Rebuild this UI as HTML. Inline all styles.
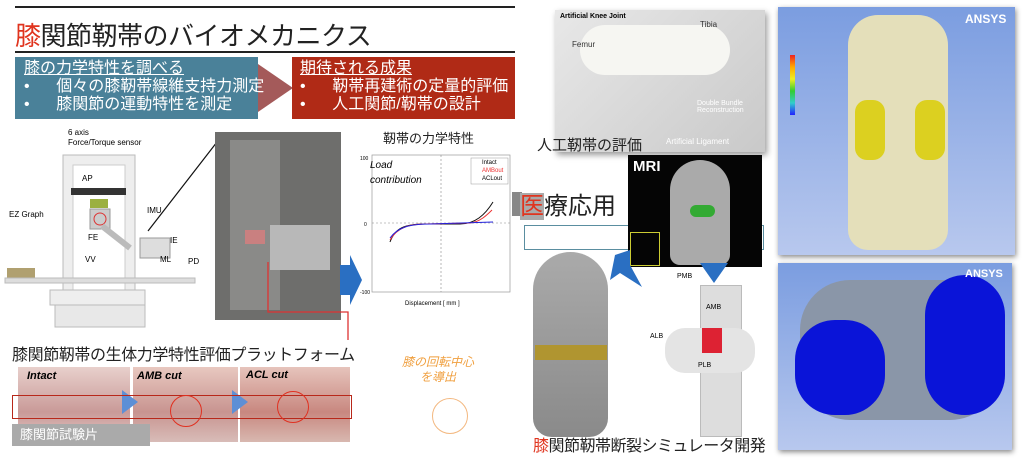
<!DOCTYPE html>
<html><head><meta charset="utf-8"><style>
body{margin:0;width:1024px;height:470px;background:#fff;position:relative;overflow:hidden;font-family:"Liberation Sans","Noto Sans CJK JP",sans-serif}
.a{position:absolute}
.jp{font-family:"Liberation Sans","Noto Sans CJK JP",sans-serif}
</style></head><body>
<div class="a" style="left:15px;top:6px;width:500px;height:2px;background:#222"></div>
<div class="a jp" style="left:15px;top:16px;font-size:26px;color:#222;white-space:nowrap;letter-spacing:-0.5px"><span style="color:#e0341e">膝</span>関節靭帯のバイオメカニクス</div>
<div class="a" style="left:15px;top:51px;width:500px;height:2px;background:#222"></div>
<div class="a" style="left:15px;top:57px;width:243px;height:62px;background:#4a8199"></div>
<div class="a" style="left:258px;top:64px;width:0;height:0;border-top:24px solid transparent;border-bottom:24px solid transparent;border-left:35px solid #a45a5a"></div>
<div class="a" style="left:292px;top:57px;width:223px;height:62px;background:#b02a16"></div>
<div class="a jp" style="left:24px;top:60px;color:#fff;font-size:16px;line-height:18px;white-space:nowrap"><u>膝の力学特性を調べる</u><br>•&nbsp;&nbsp;&nbsp;&nbsp;&nbsp;&nbsp;個々の膝靭帯線維支持力測定<br>•&nbsp;&nbsp;&nbsp;&nbsp;&nbsp;&nbsp;膝関節の運動特性を測定</div>
<div class="a jp" style="left:300px;top:60px;color:#fff;font-size:16px;line-height:18px;white-space:nowrap"><u>期待される成果</u><br>•&nbsp;&nbsp;&nbsp;&nbsp;&nbsp;&nbsp;靭帯再建術の定量的評価<br>•&nbsp;&nbsp;&nbsp;&nbsp;&nbsp;&nbsp;人工関節/靭帯の設計</div>

<svg class="a" style="left:0;top:120px" width="370" height="230" viewBox="0 120 370 230">
<rect x="63" y="155" width="72" height="170" fill="#eee" stroke="#bbb"/>
<rect x="73" y="165" width="52" height="160" fill="#fff" stroke="#ccc"/>
<rect x="71" y="188" width="55" height="7" fill="#333"/>
<rect x="90" y="199" width="18" height="9" fill="#9bb040"/>
<rect x="90" y="209" width="20" height="20" fill="#ccc" stroke="#999"/>
<circle cx="100" cy="219" r="6" fill="none" stroke="#d33"/>
<line x1="102" y1="226" x2="130" y2="248" stroke="#bbb" stroke-width="6"/>
<rect x="140" y="238" width="30" height="20" fill="#ddd" stroke="#999"/>
<rect x="7" y="268" width="28" height="10" fill="#b0a070"/>
<rect x="5" y="278" width="190" height="5" fill="#ddd" stroke="#bbb"/>
<rect x="50" y="290" width="95" height="15" fill="#eee" stroke="#bbb"/>
<rect x="55" y="305" width="90" height="22" fill="#e8e8e8" stroke="#bbb"/>
<text x="68" y="135" font-size="8">6 axis</text><text x="68" y="145" font-size="8">Force/Torque sensor</text>
<text x="82" y="181" font-size="8">AP</text><text x="9" y="217" font-size="8">EZ Graph</text>
<text x="88" y="240" font-size="8">FE</text><text x="147" y="213" font-size="8">IMU</text>
<text x="170" y="243" font-size="8">IE</text><text x="85" y="262" font-size="8">VV</text>
<text x="160" y="262" font-size="8">ML</text><text x="188" y="264" font-size="8">PD</text>
<line x1="217" y1="142" x2="148" y2="231" stroke="#111" stroke-width="1.2"/>
<rect x="215" y="132" width="126" height="188" fill="#6e6e6c"/>
<rect x="230" y="140" width="50" height="170" fill="#8a8a88"/>
<rect x="270" y="225" width="60" height="45" fill="#b8b8b8"/>
<rect x="245" y="230" width="20" height="14" fill="#c98080"/>
<polyline points="268,262 268,312 348,312 348,340" fill="none" stroke="#d33" stroke-width="1.3"/>
<polygon points="340,265 350,265 350,255 362,280 350,305 350,295 340,295" fill="#2a6fc2"/>
</svg>
<div class="a jp" style="left:12px;top:341px;font-size:16px;color:#222;white-space:nowrap;letter-spacing:-0.4px">膝関節靭帯の生体力学特性評価プラットフォーム</div>
<div class="a" style="left:18px;top:367px;width:112px;height:75px;background:linear-gradient(#e8d0cc,#c99a98 60%,#e2c6c4)"></div>
<div class="a" style="left:133px;top:367px;width:105px;height:75px;background:linear-gradient(#e8c8c0,#c89490 60%,#d8bcb8)"></div>
<div class="a" style="left:240px;top:367px;width:110px;height:75px;background:linear-gradient(#e6c4bc,#c88880 60%,#d8b8b0)"></div>
<div class="a" style="left:122px;top:390px;width:0;height:0;border-top:12px solid transparent;border-bottom:12px solid transparent;border-left:16px solid #5d8fd6"></div>
<div class="a" style="left:232px;top:390px;width:0;height:0;border-top:12px solid transparent;border-bottom:12px solid transparent;border-left:16px solid #5d8fd6"></div>
<div class="a" style="left:12px;top:395px;width:338px;height:22px;border:1.5px solid #b8281a"></div>
<div class="a" style="left:170px;top:395px;width:30px;height:30px;border:1.5px solid #e03020;border-radius:50%"></div>
<div class="a" style="left:277px;top:391px;width:30px;height:30px;border:1.5px solid #e03020;border-radius:50%"></div>
<div class="a" style="left:27px;top:370px;font-size:11px;font-weight:bold;font-style:italic">Intact</div>
<div class="a" style="left:137px;top:370px;font-size:11px;font-weight:bold;font-style:italic">AMB cut</div>
<div class="a" style="left:246px;top:369px;font-size:11px;font-weight:bold;font-style:italic">ACL cut</div>
<div class="a jp" style="left:12px;top:424px;width:138px;height:22px;background:#aaa;color:#fff;font-size:13px;line-height:22px;padding-left:8px;box-sizing:border-box">膝関節試験片</div>

<div class="a jp" style="left:383px;top:128px;font-size:13px;color:#222">靭帯の力学特性</div>
<svg class="a" style="left:360px;top:150px" width="160" height="160" viewBox="360 150 160 160">
<rect x="372" y="155" width="138" height="137" fill="#fff" stroke="#999" stroke-width="0.7"/>
<line x1="372" y1="223" x2="510" y2="223" stroke="#888" stroke-dasharray="2 2" stroke-width="0.6"/>
<line x1="441" y1="155" x2="441" y2="292" stroke="#888" stroke-dasharray="2 2" stroke-width="0.6"/>
<path d="M390,242 C395,228 405,224 425,224 L460,224 C475,224 485,215 493,202" fill="none" stroke="#111" stroke-width="1"/>
<path d="M390,240 C397,228 408,224 425,224 L470,223 C480,222 487,215 492,210" fill="none" stroke="#e33" stroke-width="1"/>
<path d="M390,238 C398,227 410,224 430,224 L493,222" fill="none" stroke="#22d" stroke-width="1"/>
<rect x="471" y="158" width="37" height="26" fill="#fff" stroke="#999" stroke-width="0.5"/>
<text x="482" y="164" font-size="6">Intact</text><text x="482" y="172" font-size="6" fill="#e33">AMBout</text><text x="482" y="180" font-size="6">ACLout</text>
<text x="370" y="168" font-size="10" font-style="italic">Load</text><text x="370" y="183" font-size="10" font-style="italic">contribution</text>
<text x="405" y="305" font-size="6">Displacement [ mm ]</text>
<text x="360" y="160" font-size="5">100</text><text x="364" y="226" font-size="5">0</text><text x="360" y="294" font-size="5">-100</text>
</svg>
<div class="a jp" style="left:402px;top:355px;color:#f0a040;font-size:12px;font-style:italic;text-align:center;line-height:15px">膝の回転中心<br>を導出</div>
<div class="a" style="left:432px;top:398px;width:34px;height:34px;border:1.5px solid #f3b880;border-radius:50%"></div>

<div class="a" style="left:555px;top:10px;width:210px;height:142px;background:linear-gradient(135deg,#e8e8e8,#c9c9c9);box-shadow:2px 3px 6px #999"></div>
<div class="a" style="left:580px;top:25px;width:150px;height:50px;background:#f6f6f2;border-radius:25px"></div>
<div class="a" style="left:560px;top:13px;font-size:7px;font-weight:bold">Artificial Knee Joint</div>
<div class="a" style="left:700px;top:20px;font-size:8px;color:#333">Tibia</div>
<div class="a" style="left:572px;top:40px;font-size:8px;color:#333">Femur</div>
<div class="a" style="left:697px;top:100px;font-size:7px;color:#fff">Double Bundle<br>Reconstruction</div>
<div class="a" style="left:666px;top:137px;font-size:8px;color:#fff">Artificial Ligament</div>
<div class="a jp" style="left:537px;top:134px;font-size:15px;color:#222">人工靭帯の評価</div>
<div class="a" style="left:512px;top:192px;width:10px;height:24px;background:#888"></div>
<div class="a jp" style="left:520px;top:186px;font-size:24px;color:#222;white-space:nowrap"><span style="color:#e0341e;background:#aaa">医</span>療応用</div>
<div class="a" style="left:524px;top:225px;width:240px;height:25px;border:1.5px solid #5a8ea0;box-sizing:border-box"></div>
<div class="a" style="left:628px;top:155px;width:134px;height:112px;background:#050505"></div>
<div class="a" style="left:670px;top:160px;width:60px;height:105px;background:#aaa;border-radius:30px 30px 10px 10px"></div>
<div class="a" style="left:690px;top:205px;width:25px;height:12px;background:#3a3;border-radius:6px"></div>
<div class="a" style="left:633px;top:158px;color:#fff;font-size:15px;font-weight:bold">MRI</div>
<div class="a" style="left:630px;top:232px;width:28px;height:32px;border:1px solid #cc3"></div>
<svg class="a" style="left:600px;top:245px" width="140" height="50">
<polygon points="15,10 30,5 30,20 42,42 20,28 10,35" fill="#2a6fc2"/>
<polygon points="100,18 128,18 114,38" fill="#2a6fc2"/>
</svg>
<div class="a" style="left:533px;top:252px;width:75px;height:185px;background:linear-gradient(#aaa,#8a8a8a);border-radius:40px 40px 20px 20px"></div>
<div class="a" style="left:535px;top:345px;width:72px;height:15px;background:#b09530"></div>
<div class="a" style="left:700px;top:285px;width:40px;height:150px;background:#ddd;border:1px solid #bbb"></div>
<div class="a" style="left:665px;top:328px;width:90px;height:45px;background:#e4e4e4;border-radius:20px"></div>
<div class="a" style="left:702px;top:328px;width:20px;height:25px;background:#d23"></div>
<div class="a" style="left:677px;top:273px;font-size:7px">PMB</div>
<div class="a" style="left:706px;top:304px;font-size:7px">AMB</div>
<div class="a" style="left:650px;top:333px;font-size:7px">ALB</div>
<div class="a" style="left:698px;top:362px;font-size:7px">PLB</div>
<div class="a jp" style="left:533px;top:432px;font-size:16px;color:#222;white-space:nowrap;letter-spacing:-0.5px"><span style="color:#e0341e">膝</span>関節靭帯断裂シミュレータ開発</div>

<div class="a" style="left:778px;top:7px;width:237px;height:248px;background:linear-gradient(#7b9de0,#b8c8ee);box-shadow:1px 2px 5px #888"></div>
<div class="a" style="left:848px;top:15px;width:100px;height:235px;background:#e4dfba;border-radius:30px 30px 20px 20px"></div>
<div class="a" style="left:855px;top:100px;width:30px;height:60px;background:#dcd020;border-radius:12px"></div>
<div class="a" style="left:915px;top:100px;width:30px;height:60px;background:#dcd020;border-radius:12px"></div>
<div class="a" style="left:790px;top:55px;width:5px;height:60px;background:linear-gradient(#e22,#fa0,#ee2,#3c3,#3cc,#22f)"></div>
<div class="a" style="left:965px;top:12px;color:#fff;font-size:12px;font-weight:bold">ANSYS</div>
<div class="a" style="left:778px;top:263px;width:234px;height:187px;background:linear-gradient(#7b9de0,#b8c8ee);box-shadow:1px 2px 5px #888"></div>
<div class="a" style="left:800px;top:280px;width:200px;height:140px;background:#8a96a8;border-radius:50px"></div>
<div class="a" style="left:795px;top:320px;width:90px;height:95px;background:#0a14d8;border-radius:40px"></div>
<div class="a" style="left:925px;top:275px;width:80px;height:140px;background:#0a14d8;border-radius:40px"></div>
<div class="a" style="left:965px;top:268px;color:#fff;font-size:11px;font-weight:bold">ANSYS</div>
</body></html>
